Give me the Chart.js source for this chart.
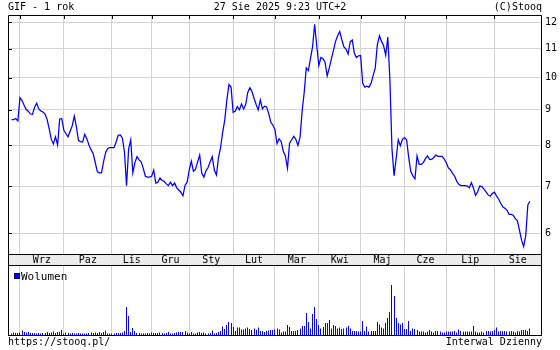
<!DOCTYPE html>
<html>
<head>
<meta charset="utf-8">
<script src="https://cdn.jsdelivr.net/npm/chart.js@4.4.1/dist/chart.umd.min.js"></script>
<style>
  html,body{margin:0;padding:0;background:#fff;}
  #wrap{position:relative;width:560px;height:350px;overflow:hidden;
    font-family:"DejaVu Sans Mono",monospace;font-size:10px;color:#000;}
  .txt{position:absolute;line-height:10px;white-space:pre;}
  canvas{position:absolute;left:0;}
  #priceChart{top:0;}
  #volChart{top:266px;}
  .sq{position:absolute;left:14px;top:273px;width:6px;height:6px;box-sizing:border-box;
    background:#0000ff;border:1px solid #00007f;}
</style>
</head>
<body>
<div id="wrap">
  <canvas id="priceChart" width="560" height="266"></canvas>
  <canvas id="volChart" width="560" height="84"></canvas>
  <div class="txt" style="left:8px;top:2px">GIF - 1 rok</div>
  <div class="txt" style="left:0;width:560px;text-align:center;top:2px">27 Sie 2025 9:23 UTC+2</div>
  <div class="txt" style="right:18px;top:2px">(C)Stooq</div>
  <span class="sq"></span>
  <div class="txt" style="left:21px;top:271px;font-size:11px;line-height:11px">Wolumen</div>
  <div class="txt" style="left:8px;top:337px">https://stooq.pl/</div>
  <div class="txt" style="right:18px;top:337px">Interwal Dzienny</div>
</div>

<script>
// ======================================
// DATA (one value per trading day, 27.08.2024 - 27.08.2025)
// ======================================
const prices = [
  8.71, 8.71, 8.74, 8.67, 9.36, 9.27, 9.13, 9.00, 8.95, 8.87,
  8.86, 9.07, 9.19, 9.02, 8.96, 8.93, 8.87, 8.71, 8.45, 8.16,
  8.04, 8.23, 8.01, 8.72, 8.74, 8.41, 8.32, 8.23, 8.38, 8.53,
  8.81, 8.51, 8.13, 8.10, 8.09, 8.30, 8.18, 8.01, 7.89, 7.79,
  7.57, 7.34, 7.31, 7.31, 7.58, 7.82, 7.92, 7.94, 7.94, 7.94,
  8.09, 8.27, 8.28, 8.20, 7.83, 7.01, 7.91, 8.15, 7.31, 7.56,
  7.71, 7.63, 7.58, 7.42, 7.23, 7.21, 7.21, 7.23, 7.38, 7.07,
  7.09, 7.19, 7.13, 7.11, 7.05, 7.01, 7.09, 7.01, 7.07, 6.96,
  6.91, 6.86, 6.78, 7.02, 7.09, 7.38, 7.60, 7.35, 7.40, 7.58,
  7.75, 7.30, 7.21, 7.36, 7.44, 7.58, 7.71, 7.38, 7.26, 7.69,
  7.94, 8.36, 8.70, 9.29, 9.77, 9.69, 8.92, 8.95, 9.09, 8.99,
  9.17, 9.02, 9.15, 9.52, 9.67, 9.55, 9.34, 9.15, 8.99, 9.29,
  9.02, 9.10, 9.08, 8.89, 8.64, 8.55, 8.43, 8.05, 8.18, 8.10,
  7.85, 7.73, 7.42, 8.06, 8.15, 8.24, 8.16, 8.00, 8.21, 8.95,
  9.52, 10.32, 10.23, 10.65, 11.06, 11.91, 11.10, 10.40, 10.68, 10.64,
  10.51, 10.05, 10.32, 10.63, 10.93, 11.26, 11.47, 11.63, 11.32, 11.06,
  10.98, 10.80, 11.24, 11.31, 10.83, 10.68, 10.74, 10.75, 9.81, 9.69,
  9.72, 9.69, 9.81, 10.07, 10.32, 11.14, 11.47, 11.26, 11.10, 10.76,
  11.42, 9.93, 7.91, 7.24, 7.66, 8.15, 7.99, 8.16, 8.21, 8.15,
  7.69, 7.34, 7.24, 7.17, 7.73, 7.52, 7.52, 7.56, 7.66, 7.73,
  7.64, 7.64, 7.69, 7.75, 7.72, 7.72, 7.72, 7.65, 7.56, 7.43,
  7.38, 7.30, 7.23, 7.11, 7.04, 7.01, 7.01, 7.01, 7.00, 6.96,
  7.08, 6.95, 6.79, 6.87, 7.00, 6.99, 6.93, 6.87, 6.80, 6.77,
  6.83, 6.86, 6.78, 6.71, 6.62, 6.54, 6.51, 6.47, 6.38, 6.38,
  6.36, 6.29, 6.25, 6.05, 5.86, 5.74, 5.95, 6.58, 6.66
];

// volume, thousands of shares
const volumes = [
  1.5, 2.5, 2, 2, 2.5, 4.5, 3, 2.5, 3, 2,
  2, 2, 1.5, 2, 1.5, 2, 2, 3, 2, 2.5,
  3.5, 2, 3, 3, 5, 1.5, 2.5, 2, 1.5, 2,
  1.5, 1.5, 2, 1.5, 1.5, 1.5, 1.5, 2, 2.5, 2,
  2.5, 2, 3, 2, 3, 4.5, 1.5, 1.5, 1.5, 1.5,
  2, 2, 2, 2.5, 4, 28, 19, 3, 7, 4,
  2, 2, 1.5, 1.5, 1.5, 2, 1.5, 2.5, 2, 2,
  2, 2.5, 2, 1.5, 2, 3, 1.5, 1.5, 2, 2.5,
  3, 3, 3, 4, 2.5, 1.5, 3, 1.5, 1.5, 2.5,
  3, 2, 2.5, 1.5, 1.5, 2, 4.5, 1.5, 2, 3,
  4, 8.5, 6, 10, 13, 12, 8, 4, 7.5, 7.5,
  5.5, 5.5, 6.5, 7.5, 6, 5, 6.5, 5, 7.5, 4,
  4, 3, 4, 4.5, 5, 5, 5.5, 6.5, 5.5, 2.5,
  3.5, 3.5, 10, 8, 4, 4, 4, 5, 6.5, 9,
  9, 22, 13, 6.5, 21, 28, 16, 10, 6.5, 8,
  12, 12, 15, 6.5, 10, 9, 6.5, 7.5, 6, 6.5,
  7.5, 9, 6.5, 4, 4, 4, 3.5, 3.5, 14, 4,
  8.5, 3.5, 4, 4, 4, 13, 10.5, 7.5, 6.5, 12,
  17, 23, 50, 39, 17, 12, 10.5, 12, 6, 6,
  14, 4, 6.5, 6, 5, 3.5, 3.5, 3.5, 2.5, 3.5,
  5, 3.5, 2.5, 4, 4, 3.5, 2.5, 2.5, 3.5, 3.5,
  3.5, 3.5, 4, 2.5, 5.5, 4, 3.5, 3.5, 3.5, 3.5,
  3.5, 9, 3.5, 2.5, 2.5, 3.5, 2.5, 4, 4, 3.5,
  4, 5, 7.5, 3.5, 4, 4, 4, 3.5, 3.5, 4,
  3.5, 2.5, 4, 3.5, 5, 5, 5, 4, 6.5
];

// first trading day of each month (index into prices)
const monthStarts = [4, 25, 48, 67, 85, 106, 126, 147, 167, 188, 208, 231];
const monthNames = ['Wrz','Paz','Lis','Gru','Sty','Lut','Mar','Kwi','Maj','Cze','Lip','Sie'];
const yTicks = [6, 7, 8, 9, 10, 11, 12];

// ======================================
// SETTINGS
// ======================================
const xMin = -1.72;
const xMax = 253.3;
const gridColor = '#d3d3d3';
const lineColor = '#0000ff';
const font = { family:'DejaVu Sans Mono', size:10 };

const monthMids = monthStarts.map((m, i) =>
  (m + (i < monthStarts.length - 1 ? monthStarts[i + 1] : xMax)) / 2);

// frame, gray band, inner ticks
const priceFrame = {
  id:'priceFrame',
  beforeDraw(chart){
    const { ctx, chartArea:a } = chart;
    ctx.save();
    ctx.fillStyle = '#ececec';
    ctx.fillRect(a.left, a.bottom, a.right - a.left + 1, 11);
    ctx.restore();
  },
  afterDraw(chart){
    const { ctx, chartArea:a, scales } = chart;
    ctx.save();
    ctx.strokeStyle = '#000';
    ctx.lineWidth = 1;
    ctx.beginPath();
    ctx.rect(a.left + .5, a.top + .5, a.right - a.left, a.bottom - a.top);
    ctx.moveTo(a.left, a.bottom + 11.5);
    ctx.lineTo(a.right + 1, a.bottom + 11.5);
    ctx.moveTo(a.left + .5, a.bottom);
    ctx.lineTo(a.left + .5, a.bottom + 12);
    ctx.moveTo(a.right + .5, a.bottom);
    ctx.lineTo(a.right + .5, a.bottom + 12);
    yTicks.forEach(v => {
      const y = Math.round(scales.y.getPixelForValue(v)) + .5;
      ctx.moveTo(a.left, y);
      ctx.lineTo(a.left + 4, y);
    });
    monthStarts.forEach(v => {
      const x = Math.round(scales.x.getPixelForValue(v)) + .5;
      ctx.moveTo(x, a.top);
      ctx.lineTo(x, a.top + 4);
    });
    ctx.stroke();
    ctx.restore();
  }
};

const volFrame = {
  id:'volFrame',
  // snap 1px bars to whole pixels so they stay crisp
  afterDatasetsUpdate(chart){
    chart.getDatasetMeta(0).data.forEach(b => { b.x = Math.floor(b.x) + .5; });
  },
  afterDraw(chart){
    const { ctx, chartArea:a } = chart;
    ctx.save();
    ctx.strokeStyle = '#000';
    ctx.lineWidth = 1;
    ctx.beginPath();
    ctx.moveTo(a.left + .5, 0);
    ctx.lineTo(a.left + .5, a.bottom + 1);
    ctx.moveTo(a.right + .5, 0);
    ctx.lineTo(a.right + .5, a.bottom + 1);
    ctx.moveTo(a.left, a.bottom + .5);
    ctx.lineTo(a.right + 1, a.bottom + .5);
    ctx.stroke();
    ctx.restore();
  }
};

// ======================================
// PRICE CHART
// ======================================
new Chart(document.getElementById('priceChart'), {

  type:'line',

  data:{
    datasets:[
      {
        data:prices.map((p, i) => ({ x:i, y:p })),
        borderColor:lineColor,
        borderWidth:1.25,
        pointRadius:0,
        tension:0,
        fill:false
      }
    ]
  },

  options:{
    responsive:false,
    animation:false,
    layout:{ padding:{ left:8, top:15, right:0, bottom:0 } },
    plugins:{ legend:{ display:false }, tooltip:{ enabled:false } },

    scales:{
      x:{
        type:'linear', min:xMin, max:xMax, position:'bottom',
        afterBuildTicks:s => { s.ticks = monthStarts.map(v => ({ value:v })); },
        afterFit:s => { s.height = 0; },
        ticks:{ display:false },
        grid:{ color:gridColor, drawTicks:false },
        border:{ display:false }
      },
      xm:{
        type:'linear', axis:'x', min:xMin, max:xMax, position:'bottom',
        afterBuildTicks:s => { s.ticks = monthMids.map(v => ({ value:v })); },
        afterFit:s => { s.height = 12; },
        ticks:{
          autoSkip:false, maxRotation:0, padding:0, color:'#000', font,
          callback:(v, i) => monthNames[i]
        },
        grid:{ display:false, drawTicks:false },
        border:{ display:false }
      },
      y:{
        type:'logarithmic', position:'right', min:5.62, max:12.28,
        afterBuildTicks:s => { s.ticks = yTicks.map(v => ({ value:v })); },
        afterFit:s => { s.width = 19; },
        ticks:{ padding:4, color:'#000', font, callback:v => String(v) },
        grid:{ color:gridColor, drawTicks:false },
        border:{ display:false }
      }
    }
  },

  plugins:[priceFrame]
});

// ======================================
// VOLUME CHART
// ======================================
new Chart(document.getElementById('volChart'), {

  type:'bar',

  data:{
    datasets:[
      {
        data:volumes.map((v, i) => ({ x:i, y:v })),
        backgroundColor:lineColor,
        borderWidth:0,
        inflateAmount:0,
        barThickness:1
      }
    ]
  },

  options:{
    responsive:false,
    animation:false,
    layout:{ padding:{ left:8, top:0, right:19, bottom:15 } },
    plugins:{ legend:{ display:false }, tooltip:{ enabled:false } },

    scales:{
      x:{
        type:'linear', min:xMin, max:xMax, offset:false,
        afterBuildTicks:s => { s.ticks = monthStarts.map(v => ({ value:v })); },
        afterFit:s => { s.height = 0; },
        ticks:{ display:false },
        grid:{ color:gridColor, drawTicks:false, offset:false },
        border:{ display:false }
      },
      y:{ display:false, min:0, max:69 }
    }
  },

  plugins:[volFrame]
});
</script>
</body>
</html>
